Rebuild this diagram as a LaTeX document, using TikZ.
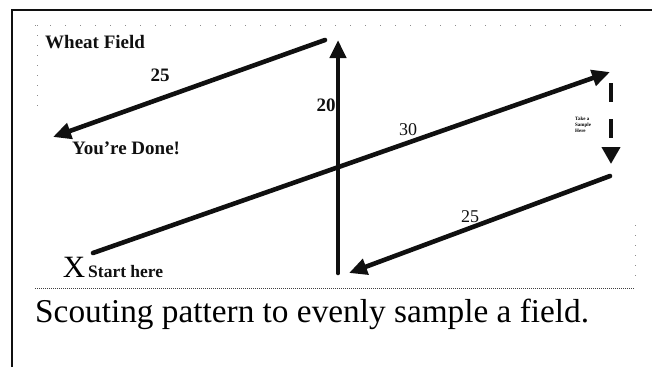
\documentclass[tikz,border=0pt]{standalone}
\usepackage{fontspec}
\setmainfont{Liberation Serif}
\usepackage{xcolor}
\usepackage{tikz}
\usetikzlibrary{arrows.meta, positioning}
\definecolor{scoutink}{HTML}{101010}
\definecolor{scoutgrey}{HTML}{8C8C8C}
\tikzset{
  trail/.style={draw=scoutink, line width=4.6pt, line cap=round,
    -{Triangle[length=18pt,width=16pt]}},
  fieldlbl/.style={font=\bfseries\fontsize{19}{19}\selectfont, inner sep=0pt, scoutink},
  distlbl/.style={font=\fontsize{18}{18}\selectfont, inner sep=0pt, scoutink},
}

\begin{document}
\begin{tikzpicture}[x=1pt,y=-1pt]
  \useasboundingbox (0,0) rectangle (652,367);
  % page frame
  \draw[line width=1.8pt,scoutink] (12,367) -- (12,10) -- (652,10);
  % picture edges
  \draw[scoutgrey,line width=0.6pt,dash pattern=on 1pt off 14pt] (35,25) -- (635,25);
  \draw[scoutgrey,line width=0.6pt,dash pattern=on 1pt off 9pt] (37,25) -- (37,110);
  \draw[scoutgrey,line width=0.6pt,dash pattern=on 1pt off 9pt] (635,225) -- (635,280);
  \draw[scoutink!80,line width=0.8pt,dash pattern=on 1pt off 1pt] (35,288) -- (635,288);
  % way points of the walk
  \coordinate (start) at (93,253);
  \coordinate (turnA) at (610,72);
  \coordinate (gapTop) at (611,83);
  \coordinate (gapEnd) at (611,164);
  \coordinate (back) at (610,176);
  \coordinate (bendB) at (349,273);
  \coordinate (up) at (338,273);
  \coordinate (topV) at (338,40);
  \coordinate (left) at (325,40);
  \coordinate (done) at (53,137);
  \foreach \a/\b in {start/turnA, back/bendB, up/topV, left/done}
  {
    \draw[trail] (\a) -- (\b);
  }
  \draw[draw=scoutink,line width=4pt,dash pattern=on 19pt off 17pt,
        -{Triangle[length=17pt,width=18pt]}] (gapTop) -- (gapEnd);
  % labels
  \node[fieldlbl,anchor=west] (wheat) at (45,42) {Wheat Field};
  \node[fieldlbl] (dTop) at (160,75) {25};
  \node[fieldlbl] (dUp) at (326,105) {20};
  \node[fieldlbl,anchor=west] (youdone) at (72,148) {You're Done!};
  \node[distlbl] (dLong) at (408,130) {30};
  \node[distlbl] (dBack) at (470,217) {25};
  \node[font=\fontsize{31}{31}\selectfont,inner sep=0pt,anchor=base] (xmark) at (74,277) {X};
  \node[fieldlbl,font=\bfseries\fontsize{17.5}{17.5}\selectfont,anchor=base west] (starthere) at (88,277) {Start here};
  \node[font=\bfseries\fontsize{5}{6}\selectfont,inner sep=0pt,anchor=west,align=left] (sampletxt) at (575,125) {Take a\\Sample\\Here};
  % caption
  \node[font=\fontsize{33.3}{33.3}\selectfont,inner sep=0pt,anchor=base west] (caption) at (35,322) {Scouting pattern to evenly sample a field.};
\end{tikzpicture}
\end{document}
